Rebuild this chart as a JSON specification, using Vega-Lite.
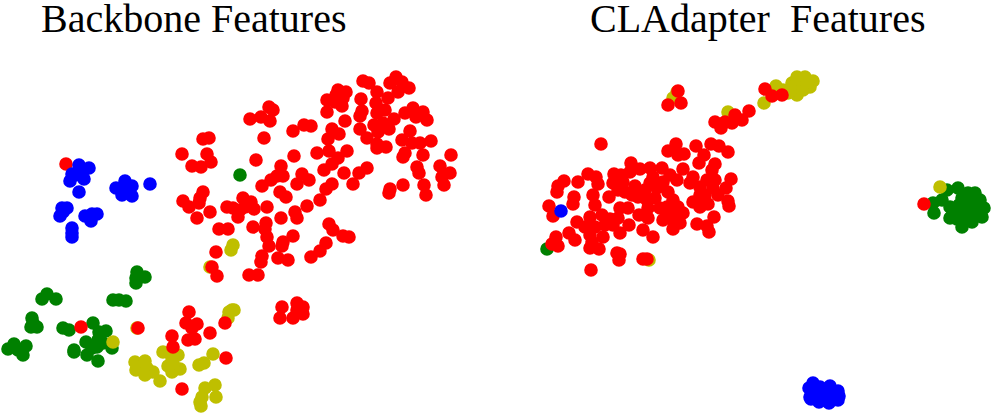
{"$schema":"https://vega.github.io/schema/vega-lite/v6.json","width":996,"height":415,"padding":0,"autosize":{"type":"fit","contains":"padding"},"background":"white","view":{"stroke":null},"datasets":{"pts":[
{"x":137,"y":272,"c":"g"},{"x":145,"y":277,"c":"g"},{"x":136,"y":278,"c":"g"},{"x":136,"y":283,"c":"g"},{"x":113,"y":300,"c":"g"},{"x":119,"y":300,"c":"g"},{"x":126,"y":301,"c":"g"},{"x":47,"y":294,"c":"g"},{"x":42,"y":299,"c":"g"},{"x":56,"y":299,"c":"g"},{"x":32,"y":318,"c":"g"},{"x":33,"y":323,"c":"g"},{"x":37,"y":327,"c":"g"},{"x":31,"y":327,"c":"g"},{"x":14,"y":344,"c":"g"},{"x":8,"y":349,"c":"g"},{"x":26,"y":346,"c":"g"},{"x":18,"y":350,"c":"g"},{"x":23,"y":355,"c":"g"},{"x":63,"y":328,"c":"g"},{"x":69,"y":330,"c":"g"},{"x":93,"y":323,"c":"g"},{"x":106,"y":331,"c":"g"},{"x":99,"y":332,"c":"g"},{"x":98,"y":340,"c":"g"},{"x":86,"y":342,"c":"g"},{"x":92,"y":348,"c":"g"},{"x":97,"y":347,"c":"g"},{"x":74,"y":350,"c":"g"},{"x":74,"y":352,"c":"g"},{"x":87,"y":355,"c":"g"},{"x":98,"y":361,"c":"g"},{"x":112,"y":348,"c":"g"},{"x":103,"y":343,"c":"g"},{"x":240,"y":175,"c":"g"},{"x":547,"y":249,"c":"g"},
{"x":933,"y":203,"c":"g"},{"x":934,"y":213,"c":"g"},{"x":942,"y":200,"c":"g"},{"x":947,"y":190,"c":"g"},{"x":958,"y":188,"c":"g"},{"x":968,"y":193,"c":"g"},{"x":975,"y":193,"c":"g"},{"x":950,"y":218,"c":"g"},{"x":962,"y":227,"c":"g"},{"x":972,"y":222,"c":"g"},{"x":982,"y":217,"c":"g"},{"x":984,"y":208,"c":"g"},{"x":980,"y":200,"c":"g"},{"x":950,"y":207,"c":"g"},{"x":962,"y":198,"c":"g"},{"x":967,"y":205,"c":"g"},{"x":973,"y":208,"c":"g"},{"x":960,"y":212,"c":"g"},{"x":968,"y":217,"c":"g"},{"x":953,"y":212,"c":"g"},{"x":963,"y":220,"c":"g"},{"x":978,"y":210,"c":"g"},{"x":972,"y":200,"c":"g"},{"x":959,"y":205,"c":"g"},{"x":976,"y":216,"c":"g"},{"x":957,"y":219,"c":"g"},
{"x":113,"y":342,"c":"y"},{"x":137,"y":328,"c":"y"},{"x":163,"y":352,"c":"y"},{"x":178,"y":355,"c":"y"},{"x":172,"y":358,"c":"y"},{"x":168,"y":366,"c":"y"},{"x":180,"y":369,"c":"y"},{"x":172,"y":372,"c":"y"},{"x":173,"y":363,"c":"y"},{"x":135,"y":362,"c":"y"},{"x":145,"y":361,"c":"y"},{"x":136,"y":370,"c":"y"},{"x":147,"y":368,"c":"y"},{"x":153,"y":372,"c":"y"},{"x":145,"y":375,"c":"y"},{"x":160,"y":381,"c":"y"},{"x":213,"y":354,"c":"y"},{"x":204,"y":363,"c":"y"},{"x":199,"y":365,"c":"y"},{"x":215,"y":385,"c":"y"},{"x":205,"y":388,"c":"y"},{"x":216,"y":397,"c":"y"},{"x":202,"y":397,"c":"y"},{"x":200,"y":402,"c":"y"},{"x":201,"y":406,"c":"y"},{"x":232,"y":310,"c":"y"},{"x":234,"y":310,"c":"y"},{"x":229,"y":312,"c":"y"},{"x":228,"y":318,"c":"y"},{"x":233,"y":245,"c":"y"},{"x":231,"y":250,"c":"y"},{"x":210,"y":267,"c":"y"},
{"x":649,"y":260,"c":"y"},{"x":677,"y":92,"c":"y"},{"x":673,"y":98,"c":"y"},{"x":728,"y":112,"c":"y"},{"x":764,"y":103,"c":"y"},{"x":776,"y":86,"c":"y"},{"x":783,"y":90,"c":"y"},{"x":792,"y":83,"c":"y"},{"x":797,"y":77,"c":"y"},{"x":805,"y":77,"c":"y"},{"x":813,"y":81,"c":"y"},{"x":810,"y":87,"c":"y"},{"x":797,"y":95,"c":"y"},{"x":788,"y":93,"c":"y"},{"x":800,"y":85,"c":"y"},{"x":792,"y":90,"c":"y"},{"x":803,"y":90,"c":"y"},{"x":807,"y":82,"c":"y"},{"x":940,"y":187,"c":"y"},
{"x":66,"y":164,"c":"r"},{"x":81,"y":327,"c":"r"},{"x":138,"y":328,"c":"r"},{"x":189,"y":312,"c":"r"},{"x":186,"y":323,"c":"r"},{"x":197,"y":324,"c":"r"},{"x":192,"y":328,"c":"r"},{"x":210,"y":333,"c":"r"},{"x":225,"y":323,"c":"r"},{"x":172,"y":336,"c":"r"},{"x":173,"y":347,"c":"r"},{"x":188,"y":340,"c":"r"},{"x":195,"y":339,"c":"r"},{"x":226,"y":358,"c":"r"},{"x":182,"y":389,"c":"r"},{"x":282,"y":307,"c":"r"},{"x":280,"y":318,"c":"r"},{"x":297,"y":303,"c":"r"},{"x":303,"y":307,"c":"r"},{"x":293,"y":318,"c":"r"},{"x":303,"y":314,"c":"r"},{"x":297,"y":310,"c":"r"},
{"x":363,"y":81,"c":"r"},{"x":369,"y":83,"c":"r"},{"x":396,"y":77,"c":"r"},{"x":390,"y":83,"c":"r"},{"x":402,"y":82,"c":"r"},{"x":409,"y":88,"c":"r"},{"x":398,"y":92,"c":"r"},{"x":377,"y":92,"c":"r"},{"x":388,"y":98,"c":"r"},{"x":338,"y":90,"c":"r"},{"x":346,"y":92,"c":"r"},{"x":336,"y":95,"c":"r"},{"x":343,"y":98,"c":"r"},{"x":327,"y":100,"c":"r"},{"x":361,"y":99,"c":"r"},{"x":335,"y":102,"c":"r"},{"x":342,"y":106,"c":"r"},{"x":376,"y":103,"c":"r"},{"x":327,"y":112,"c":"r"},{"x":362,"y":111,"c":"r"},{"x":360,"y":116,"c":"r"},{"x":377,"y":113,"c":"r"},{"x":385,"y":110,"c":"r"},{"x":405,"y":113,"c":"r"},{"x":413,"y":108,"c":"r"},{"x":416,"y":117,"c":"r"},{"x":423,"y":112,"c":"r"},{"x":427,"y":120,"c":"r"},{"x":345,"y":121,"c":"r"},{"x":394,"y":119,"c":"r"},{"x":383,"y":123,"c":"r"},{"x":374,"y":125,"c":"r"},{"x":389,"y":129,"c":"r"},{"x":378,"y":132,"c":"r"},{"x":360,"y":129,"c":"r"},{"x":367,"y":138,"c":"r"},{"x":332,"y":129,"c":"r"},{"x":339,"y":134,"c":"r"},{"x":328,"y":139,"c":"r"},{"x":410,"y":131,"c":"r"},{"x":402,"y":140,"c":"r"},{"x":412,"y":143,"c":"r"},{"x":420,"y":143,"c":"r"},{"x":431,"y":141,"c":"r"},{"x":377,"y":144,"c":"r"},{"x":386,"y":147,"c":"r"},{"x":377,"y":148,"c":"r"},{"x":405,"y":153,"c":"r"},{"x":403,"y":157,"c":"r"},{"x":423,"y":155,"c":"r"},{"x":451,"y":155,"c":"r"},{"x":317,"y":153,"c":"r"},{"x":329,"y":151,"c":"r"},{"x":347,"y":151,"c":"r"},{"x":338,"y":158,"c":"r"},{"x":332,"y":164,"c":"r"},{"x":324,"y":170,"c":"r"},{"x":294,"y":156,"c":"r"},{"x":256,"y":160,"c":"r"},{"x":281,"y":166,"c":"r"},{"x":367,"y":168,"c":"r"},{"x":359,"y":173,"c":"r"},{"x":344,"y":173,"c":"r"},{"x":353,"y":184,"c":"r"},{"x":417,"y":167,"c":"r"},{"x":419,"y":173,"c":"r"},{"x":440,"y":166,"c":"r"},{"x":450,"y":173,"c":"r"},{"x":442,"y":177,"c":"r"},{"x":444,"y":185,"c":"r"},{"x":403,"y":185,"c":"r"},{"x":424,"y":185,"c":"r"},{"x":426,"y":195,"c":"r"},{"x":390,"y":189,"c":"r"},{"x":389,"y":193,"c":"r"},{"x":332,"y":184,"c":"r"},{"x":326,"y":189,"c":"r"},{"x":320,"y":200,"c":"r"},{"x":307,"y":206,"c":"r"},{"x":302,"y":174,"c":"r"},{"x":309,"y":180,"c":"r"},{"x":297,"y":184,"c":"r"},{"x":283,"y":176,"c":"r"},{"x":277,"y":176,"c":"r"},{"x":271,"y":180,"c":"r"},{"x":262,"y":186,"c":"r"},{"x":280,"y":192,"c":"r"},{"x":286,"y":197,"c":"r"},{"x":267,"y":207,"c":"r"},{"x":281,"y":218,"c":"r"},{"x":295,"y":212,"c":"r"},{"x":297,"y":218,"c":"r"},{"x":269,"y":107,"c":"r"},{"x":273,"y":110,"c":"r"},{"x":261,"y":117,"c":"r"},{"x":250,"y":119,"c":"r"},{"x":270,"y":121,"c":"r"},{"x":264,"y":138,"c":"r"},{"x":293,"y":131,"c":"r"},{"x":304,"y":125,"c":"r"},{"x":311,"y":126,"c":"r"},{"x":203,"y":139,"c":"r"},{"x":209,"y":138,"c":"r"},{"x":182,"y":154,"c":"r"},{"x":207,"y":154,"c":"r"},{"x":211,"y":162,"c":"r"},{"x":192,"y":166,"c":"r"},{"x":201,"y":167,"c":"r"},{"x":203,"y":192,"c":"r"},{"x":200,"y":198,"c":"r"},{"x":183,"y":201,"c":"r"},{"x":189,"y":207,"c":"r"},{"x":199,"y":203,"c":"r"},{"x":210,"y":212,"c":"r"},{"x":197,"y":218,"c":"r"},{"x":227,"y":207,"c":"r"},{"x":233,"y":208,"c":"r"},{"x":243,"y":198,"c":"r"},{"x":251,"y":202,"c":"r"},{"x":245,"y":207,"c":"r"},{"x":254,"y":209,"c":"r"},{"x":238,"y":217,"c":"r"},{"x":240,"y":210,"c":"r"},{"x":219,"y":229,"c":"r"},{"x":228,"y":229,"c":"r"},{"x":253,"y":227,"c":"r"},{"x":266,"y":223,"c":"r"},{"x":265,"y":229,"c":"r"},{"x":267,"y":237,"c":"r"},{"x":269,"y":246,"c":"r"},{"x":293,"y":236,"c":"r"},{"x":283,"y":242,"c":"r"},{"x":282,"y":246,"c":"r"},{"x":329,"y":224,"c":"r"},{"x":333,"y":230,"c":"r"},{"x":343,"y":236,"c":"r"},{"x":349,"y":237,"c":"r"},{"x":326,"y":243,"c":"r"},{"x":320,"y":251,"c":"r"},{"x":311,"y":257,"c":"r"},{"x":262,"y":256,"c":"r"},{"x":261,"y":262,"c":"r"},{"x":278,"y":258,"c":"r"},{"x":288,"y":260,"c":"r"},{"x":216,"y":252,"c":"r"},{"x":212,"y":267,"c":"r"},{"x":217,"y":276,"c":"r"},{"x":249,"y":275,"c":"r"},{"x":258,"y":275,"c":"r"},
{"x":601,"y":144,"c":"r"},{"x":676,"y":144,"c":"r"},{"x":668,"y":151,"c":"r"},{"x":678,"y":155,"c":"r"},{"x":684,"y":154,"c":"r"},{"x":696,"y":146,"c":"r"},{"x":711,"y":144,"c":"r"},{"x":719,"y":146,"c":"r"},{"x":728,"y":152,"c":"r"},{"x":704,"y":155,"c":"r"},{"x":699,"y":163,"c":"r"},{"x":715,"y":164,"c":"r"},{"x":712,"y":170,"c":"r"},{"x":631,"y":163,"c":"r"},{"x":640,"y":169,"c":"r"},{"x":650,"y":168,"c":"r"},{"x":662,"y":168,"c":"r"},{"x":683,"y":169,"c":"r"},{"x":670,"y":175,"c":"r"},{"x":653,"y":177,"c":"r"},{"x":630,"y":172,"c":"r"},{"x":614,"y":174,"c":"r"},{"x":621,"y":175,"c":"r"},{"x":588,"y":174,"c":"r"},{"x":596,"y":177,"c":"r"},{"x":598,"y":184,"c":"r"},{"x":578,"y":182,"c":"r"},{"x":564,"y":181,"c":"r"},{"x":558,"y":186,"c":"r"},{"x":557,"y":192,"c":"r"},{"x":613,"y":183,"c":"r"},{"x":623,"y":182,"c":"r"},{"x":618,"y":190,"c":"r"},{"x":635,"y":186,"c":"r"},{"x":645,"y":190,"c":"r"},{"x":632,"y":195,"c":"r"},{"x":657,"y":188,"c":"r"},{"x":609,"y":197,"c":"r"},{"x":677,"y":180,"c":"r"},{"x":693,"y":177,"c":"r"},{"x":690,"y":183,"c":"r"},{"x":700,"y":187,"c":"r"},{"x":707,"y":180,"c":"r"},{"x":713,"y":188,"c":"r"},{"x":718,"y":195,"c":"r"},{"x":726,"y":188,"c":"r"},{"x":731,"y":179,"c":"r"},{"x":668,"y":192,"c":"r"},{"x":673,"y":200,"c":"r"},{"x":655,"y":198,"c":"r"},{"x":647,"y":200,"c":"r"},{"x":638,"y":197,"c":"r"},{"x":700,"y":195,"c":"r"},{"x":693,"y":202,"c":"r"},{"x":700,"y":207,"c":"r"},{"x":708,"y":204,"c":"r"},{"x":728,"y":201,"c":"r"},{"x":729,"y":206,"c":"r"},{"x":593,"y":195,"c":"r"},{"x":595,"y":205,"c":"r"},{"x":574,"y":197,"c":"r"},{"x":573,"y":204,"c":"r"},{"x":549,"y":206,"c":"r"},{"x":553,"y":216,"c":"r"},{"x":667,"y":207,"c":"r"},{"x":678,"y":207,"c":"r"},{"x":683,"y":213,"c":"r"},{"x":667,"y":215,"c":"r"},{"x":673,"y":220,"c":"r"},{"x":663,"y":220,"c":"r"},{"x":680,"y":223,"c":"r"},{"x":673,"y":229,"c":"r"},{"x":672,"y":210,"c":"r"},{"x":675,"y":215,"c":"r"},{"x":620,"y":208,"c":"r"},{"x":628,"y":208,"c":"r"},{"x":648,"y":208,"c":"r"},{"x":639,"y":215,"c":"r"},{"x":648,"y":218,"c":"r"},{"x":618,"y":218,"c":"r"},{"x":629,"y":225,"c":"r"},{"x":620,"y":233,"c":"r"},{"x":643,"y":230,"c":"r"},{"x":653,"y":237,"c":"r"},{"x":714,"y":217,"c":"r"},{"x":697,"y":224,"c":"r"},{"x":707,"y":226,"c":"r"},{"x":709,"y":232,"c":"r"},{"x":577,"y":222,"c":"r"},{"x":590,"y":217,"c":"r"},{"x":602,"y":215,"c":"r"},{"x":610,"y":219,"c":"r"},{"x":613,"y":225,"c":"r"},{"x":585,"y":227,"c":"r"},{"x":595,"y":227,"c":"r"},{"x":590,"y":235,"c":"r"},{"x":603,"y":237,"c":"r"},{"x":569,"y":233,"c":"r"},{"x":575,"y":240,"c":"r"},{"x":592,"y":242,"c":"r"},{"x":590,"y":248,"c":"r"},{"x":599,"y":249,"c":"r"},{"x":556,"y":237,"c":"r"},{"x":552,"y":244,"c":"r"},{"x":558,"y":246,"c":"r"},{"x":617,"y":253,"c":"r"},{"x":620,"y":254,"c":"r"},{"x":619,"y":260,"c":"r"},{"x":643,"y":259,"c":"r"},{"x":647,"y":259,"c":"r"},{"x":591,"y":270,"c":"r"},{"x":625,"y":192,"c":"r"},{"x":650,"y":183,"c":"r"},{"x":663,"y":182,"c":"r"},{"x":705,"y":195,"c":"r"},{"x":605,"y":225,"c":"r"},{"x":660,"y":208,"c":"r"},{"x":715,"y":180,"c":"r"},{"x":678,"y":91,"c":"r"},{"x":668,"y":105,"c":"r"},{"x":681,"y":103,"c":"r"},{"x":749,"y":111,"c":"r"},{"x":742,"y":120,"c":"r"},{"x":735,"y":115,"c":"r"},{"x":732,"y":123,"c":"r"},{"x":725,"y":122,"c":"r"},{"x":721,"y":128,"c":"r"},{"x":715,"y":122,"c":"r"},{"x":765,"y":89,"c":"r"},{"x":772,"y":96,"c":"r"},{"x":782,"y":95,"c":"r"},{"x":924,"y":204,"c":"r"},
{"x":79,"y":165,"c":"b"},{"x":89,"y":168,"c":"b"},{"x":72,"y":174,"c":"b"},{"x":82,"y":173,"c":"b"},{"x":70,"y":181,"c":"b"},{"x":84,"y":179,"c":"b"},{"x":75,"y":175,"c":"b"},{"x":79,"y":192,"c":"b"},{"x":125,"y":181,"c":"b"},{"x":116,"y":188,"c":"b"},{"x":132,"y":186,"c":"b"},{"x":125,"y":188,"c":"b"},{"x":122,"y":195,"c":"b"},{"x":132,"y":196,"c":"b"},{"x":128,"y":190,"c":"b"},{"x":150,"y":184,"c":"b"},{"x":62,"y":208,"c":"b"},{"x":67,"y":208,"c":"b"},{"x":60,"y":216,"c":"b"},{"x":63,"y":212,"c":"b"},{"x":85,"y":216,"c":"b"},{"x":92,"y":214,"c":"b"},{"x":97,"y":214,"c":"b"},{"x":91,"y":221,"c":"b"},{"x":72,"y":228,"c":"b"},{"x":72,"y":233,"c":"b"},{"x":72,"y":237,"c":"b"},{"x":561,"y":211,"c":"b"},{"x":813,"y":383,"c":"b"},{"x":809,"y":388,"c":"b"},{"x":820,"y":387,"c":"b"},{"x":830,"y":386,"c":"b"},{"x":838,"y":391,"c":"b"},{"x":839,"y":396,"c":"b"},{"x":838,"y":400,"c":"b"},{"x":829,"y":403,"c":"b"},{"x":819,"y":402,"c":"b"},{"x":811,"y":399,"c":"b"},{"x":810,"y":397,"c":"b"},{"x":823,"y":395,"c":"b"},{"x":815,"y":393,"c":"b"},{"x":832,"y":395,"c":"b"}
]},"layer":[
{"data":{"name":"pts"},"mark":{"type":"point","filled":true,"opacity":1,"size":185,"shape":"circle","clip":false},"encoding":{"x":{"field":"x","type":"quantitative","scale":{"domain":[0,996],"nice":false,"zero":false},"axis":null},"y":{"field":"y","type":"quantitative","scale":{"domain":[415,0],"nice":false,"zero":false},"axis":null},"color":{"field":"c","type":"nominal","scale":{"domain":["r","g","b","y"],"range":["#ff0000","#008000","#0000ff","#bfbf00"]},"legend":null}}},
{"data":{"values":[{"t":"Backbone Features"}]},"mark":{"type":"text","font":"Liberation Serif","fontSize":40,"align":"left","baseline":"alphabetic","color":"#000000"},"encoding":{"text":{"field":"t"},"x":{"datum":41},"y":{"datum":32}}},
{"data":{"values":[{"t":"CLAdapter\u00a0 Features"}]},"mark":{"type":"text","font":"Liberation Serif","fontSize":40,"align":"left","baseline":"alphabetic","color":"#000000"},"encoding":{"text":{"field":"t"},"x":{"datum":590},"y":{"datum":32}}}
]}
